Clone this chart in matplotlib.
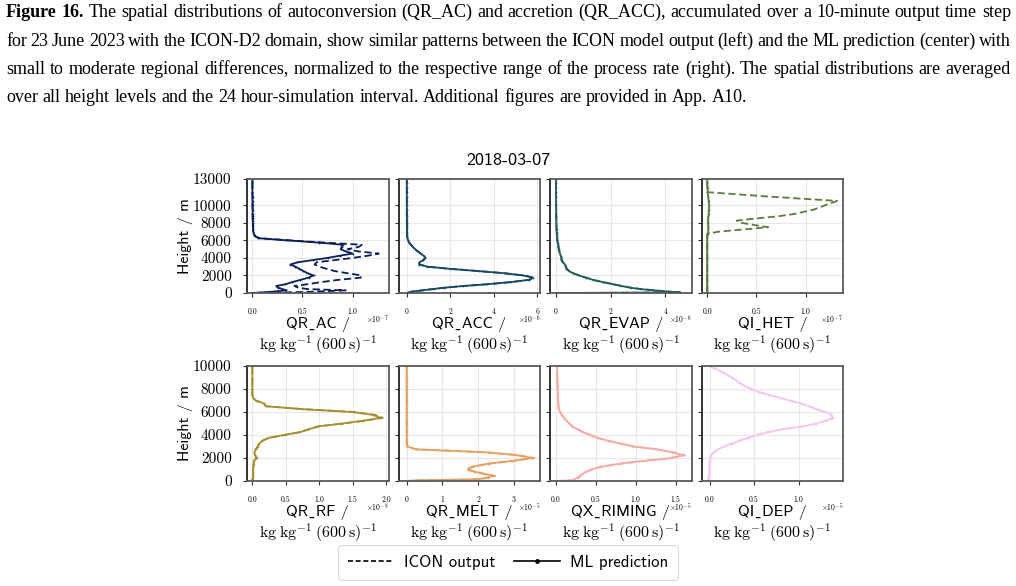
import matplotlib
matplotlib.use("Agg")
import matplotlib.pyplot as plt
from matplotlib.lines import Line2D

plt.rcParams["mathtext.fontset"] = "cm"

# model levels (m), shared by all panels
height = [0, 60, 150, 300, 450, 600, 800, 1000,
          1250, 1500, 1750, 2000, 2250, 2500, 2750, 3000,
          3250, 3500, 3750, 4000, 4250, 4500, 4750, 5000,
          5250, 5500, 5750, 6000, 6250, 6500, 6750, 7000,
          7250, 7500, 7750, 8000, 8250, 8500, 8750, 9000,
          9500, 10000, 10500, 11000, 11500, 12000, 12500, 13000]

# QR_AC  (x1e-7)
ac_icon = [0.0, 0.30, 0.60, 0.93, 0.55, 0.46, 0.42, 0.55,
           0.69, 0.86, 1.08, 1.09, 0.95, 0.82, 0.74, 0.67,
           0.62, 0.64, 0.82, 1.00, 1.15, 1.26, 1.05, 0.95,
           1.06, 1.09, 0.72, 0.38, 0.07, 0.025, 0.015, 0.01,
           0.008, 0.006, 0.005, 0.005, 0.004, 0.004, 0.003, 0.003,
           0.003, 0.002, 0.002, 0.002, 0.001, 0.001, 0.001, 0.001]
ac_ml = [0.0, 0.08, 0.20, 0.34, 0.30, 0.26, 0.24, 0.33,
         0.40, 0.48, 0.56, 0.61, 0.55, 0.51, 0.47, 0.43,
         0.38, 0.45, 0.60, 0.75, 0.87, 1.00, 0.93, 0.88,
         0.89, 0.90, 0.66, 0.35, 0.06, 0.025, 0.015, 0.01,
         0.008, 0.006, 0.005, 0.005, 0.004, 0.004, 0.003, 0.003,
         0.003, 0.002, 0.002, 0.002, 0.001, 0.001, 0.001, 0.001]

# QR_ACC  (x1e-6)
acc_icon = [0.0, 0.10, 0.22, 0.72, 1.22, 1.72, 2.62, 3.72,
            4.82, 5.62, 5.84, 5.38, 4.50, 3.30, 2.00, 0.95,
            0.57, 0.58, 0.76, 0.86, 0.78, 0.64, 0.50, 0.38,
            0.28, 0.19, 0.11, 0.06, 0.03, 0.015, 0.01, 0.008,
            0.006, 0.005, 0.004, 0.004, 0.003, 0.003, 0.003, 0.002,
            0.002, 0.002, 0.001, 0.001, 0.001, 0.001, 0.001, 0.001]
acc_ml = [0.0, 0.10, 0.20, 0.70, 1.20, 1.70, 2.60, 3.70,
          4.80, 5.60, 5.80, 5.35, 4.50, 3.30, 2.00, 0.95,
          0.58, 0.58, 0.75, 0.85, 0.78, 0.64, 0.50, 0.38,
          0.28, 0.19, 0.11, 0.06, 0.03, 0.015, 0.01, 0.008,
          0.006, 0.005, 0.004, 0.004, 0.003, 0.003, 0.003, 0.002,
          0.002, 0.002, 0.001, 0.001, 0.001, 0.001, 0.001, 0.001]

# QR_EVAP  (x1e-6)
evap_icon = [0.0, 4.55, 4.20, 3.60, 3.10, 2.75, 2.40, 2.10,
             1.70, 1.36, 1.10, 0.85, 0.63, 0.49, 0.39, 0.36,
             0.34, 0.26, 0.21, 0.20, 0.17, 0.14, 0.12, 0.10,
             0.09, 0.08, 0.06, 0.05, 0.04, 0.03, 0.025, 0.02,
             0.018, 0.015, 0.013, 0.01, 0.009, 0.008, 0.007, 0.006,
             0.005, 0.004, 0.003, 0.003, 0.002, 0.002, 0.002, 0.002]
evap_ml = [0.0, 4.50, 4.15, 3.58, 3.08, 2.73, 2.39, 2.08,
           1.69, 1.35, 1.09, 0.84, 0.62, 0.48, 0.38, 0.35,
           0.33, 0.25, 0.20, 0.20, 0.17, 0.14, 0.12, 0.10,
           0.09, 0.08, 0.06, 0.05, 0.04, 0.03, 0.025, 0.02,
           0.018, 0.015, 0.013, 0.01, 0.009, 0.008, 0.007, 0.006,
           0.005, 0.004, 0.003, 0.003, 0.002, 0.002, 0.002, 0.002]

# QI_HET  (x1e-7)
het_icon = [0.0, 0.0, 0.0, 0.0, 0.0, 0.0, 0.0, 0.0,
            0.0, 0.0, 0.0, 0.0, 0.0, 0.0, 0.0, 0.0,
            0.0, 0.0, 0.0, 0.0, 0.0, 0.0, 0.0, 0.0,
            0.0, 0.0, 0.0, 0.0, 0.0, 0.0, 0.0, 0.12,
            0.37, 0.62, 0.48, 0.35, 0.30, 0.50, 0.72, 0.88,
            1.08, 1.20, 1.32, 0.62, 0.0, 0.0, 0.0, 0.0]
het_ml = [0.0, 0.0, 0.0, 0.0, 0.0, 0.0, 0.0, 0.0,
          0.0, 0.0, 0.0, 0.0, 0.0, 0.0, 0.0, 0.0,
          0.0, 0.0, 0.0, 0.0, 0.0, 0.0, 0.0, 0.0,
          0.0, 0.0, 0.0, 0.0, 0.0, 0.0, 0.005, 0.01,
          0.01, 0.012, 0.01, 0.008, 0.008, 0.01, 0.012, 0.015,
          0.018, 0.02, 0.015, 0.01, 0.005, 0.003, 0.002, 0.0]

# QR_RF  (x1e-8)
rf_icon = [0.0, 0.0, 0.0, 0.01, 0.01, 0.01, 0.01, 0.01,
           0.015, 0.02, 0.02, 0.06, 0.04, 0.03, 0.05, 0.08,
           0.10, 0.15, 0.25, 0.48, 0.72, 0.85, 1.00, 1.36,
           1.70, 1.95, 1.84, 1.52, 0.76, 0.20, 0.17, 0.05,
           0.01, 0.0, 0.0, 0.0, 0.0, 0.0, 0.0, 0.0,
           0.0, 0.0, 0.0, 0.0, 0.0, 0.0, 0.0, 0.0]
rf_ml = [0.0, 0.0, 0.0, 0.01, 0.01, 0.01, 0.01, 0.01,
         0.015, 0.02, 0.02, 0.07, 0.04, 0.03, 0.05, 0.08,
         0.10, 0.15, 0.24, 0.47, 0.71, 0.84, 0.98, 1.34,
         1.66, 1.92, 1.80, 1.50, 0.74, 0.21, 0.17, 0.05,
         0.01, 0.0, 0.0, 0.0, 0.0, 0.0, 0.0, 0.0,
         0.0, 0.0, 0.0, 0.0, 0.0, 0.0, 0.0, 0.0]

# QR_MELT  (x1e-5)
melt_icon = [0.0, 0.3, 2.05, 2.32, 2.48, 2.22, 1.90, 1.68,
             1.84, 2.30, 3.00, 3.58, 3.12, 2.22, 0.28, 0.02,
             0.0, 0.0, 0.0, 0.0, 0.0, 0.0, 0.0, 0.0,
             0.0, 0.0, 0.0, 0.0, 0.0, 0.0, 0.0, 0.0,
             0.0, 0.0, 0.0, 0.0, 0.0, 0.0, 0.0, 0.0,
             0.0, 0.0, 0.0, 0.0, 0.0, 0.0, 0.0, 0.0]
melt_ml = [0.0, 0.3, 2.00, 2.28, 2.44, 2.20, 1.92, 1.72,
           1.86, 2.28, 2.96, 3.52, 3.08, 2.18, 0.26, 0.02,
           0.0, 0.0, 0.0, 0.0, 0.0, 0.0, 0.0, 0.0,
           0.0, 0.0, 0.0, 0.0, 0.0, 0.0, 0.0, 0.0,
           0.0, 0.0, 0.0, 0.0, 0.0, 0.0, 0.0, 0.0,
           0.0, 0.0, 0.0, 0.0, 0.0, 0.0, 0.0, 0.0]

# QX_RIMING  (x1e-5)
rim_icon = [0.0, 0.22, 0.24, 0.28, 0.30, 0.33, 0.38, 0.45,
            0.58, 0.80, 1.12, 1.45, 1.62, 1.46, 1.28, 0.98,
            0.82, 0.65, 0.52, 0.43, 0.34, 0.27, 0.20, 0.17,
            0.13, 0.10, 0.07, 0.05, 0.035, 0.03, 0.028, 0.025,
            0.024, 0.022, 0.021, 0.02, 0.019, 0.018, 0.017, 0.015,
            0.013, 0.012, 0.011, 0.01, 0.01, 0.01, 0.01, 0.01]
rim_ml = [0.0, 0.21, 0.23, 0.27, 0.30, 0.33, 0.37, 0.44,
          0.57, 0.79, 1.10, 1.44, 1.60, 1.45, 1.27, 0.97,
          0.81, 0.65, 0.52, 0.43, 0.34, 0.27, 0.20, 0.17,
          0.13, 0.10, 0.07, 0.05, 0.035, 0.03, 0.028, 0.025,
          0.024, 0.022, 0.021, 0.02, 0.019, 0.018, 0.017, 0.015,
          0.013, 0.012, 0.011, 0.01, 0.01, 0.01, 0.01, 0.01]

# QI_DEP  (x1e-5)
dep_icon = [-0.02, -0.02, -0.015, -0.01, -0.01, -0.005, 0.0, 0.0,
            0.0, 0.0, 0.0, 0.01, 0.02, 0.05, 0.10, 0.16,
            0.25, 0.34, 0.43, 0.53, 0.66, 0.82, 1.05, 1.20,
            1.31, 1.38, 1.36, 1.30, 1.20, 1.12, 1.02, 0.90,
            0.78, 0.66, 0.55, 0.47, 0.40, 0.34, 0.30, 0.25,
            0.14, 0.0, 0.0, 0.0, 0.0, 0.0, 0.0, 0.0]
dep_ml = [-0.02, -0.02, -0.015, -0.01, -0.01, -0.005, 0.0, 0.0,
          0.0, 0.0, 0.0, 0.01, 0.02, 0.05, 0.10, 0.16,
          0.25, 0.34, 0.43, 0.53, 0.66, 0.82, 1.05, 1.20,
          1.31, 1.39, 1.37, 1.30, 1.20, 1.12, 1.02, 0.90,
          0.78, 0.66, 0.55, 0.47, 0.40, 0.34, 0.30, 0.25,
          0.14, 0.0, 0.0, 0.0, 0.0, 0.0, 0.0, 0.0]

names = ["QR_AC", "QR_ACC", "QR_EVAP", "QI_HET",
         "QR_RF", "QR_MELT", "QX_RIMING", "QI_DEP"]
icon = [ac_icon, acc_icon, evap_icon, het_icon,
        rf_icon, melt_icon, rim_icon, dep_icon]
ml = [ac_ml, acc_ml, evap_ml, het_ml, rf_ml, melt_ml, rim_ml, dep_ml]
exponents = [-7, -6, -6, -7, -8, -5, -5, -5]
xticks = [[0, 0.5, 1.0], [0, 2, 4, 6], [0, 2, 4], [0, 0.5, 1.0],
          [0, 0.5, 1.0, 1.5, 2.0], [0, 1, 2, 3], [0, 0.5, 1.0, 1.5], [0, 0.5, 1.0]]
xlims = [(-0.053, 1.357), (-0.38, 6.12), (-0.22, 4.95), (-0.058, 1.38),
         (-0.08, 2.035), (-0.23, 3.74), (-0.076, 1.70), (-0.09, 1.50)]
colors = ["#0b1f5c", "#164a66", "#235f57", "#5c7b3c",
          "#a88f2c", "#e9a05c", "#f7aaa5", "#f6c6f2"]
date = "2018-03-07"

caption = [
    "Figure 16. The spatial distributions of autoconversion (QR_AC) and accretion (QR_ACC), accumulated over a 10-minute output time step",
    "for 23 June 2023 with the ICON-D2 domain, show similar patterns between the ICON model output (left) and the ML prediction (center) with",
    "small to moderate regional differences, normalized to the respective range of the process rate (right). The spatial distributions are averaged",
    "over all height levels and the 24 hour-simulation interval. Additional figures are provided in App. A10.",
]

W, H = 1016, 586
fig = plt.figure(figsize=(W / 100, H / 100), dpi=100)
fig.patch.set_facecolor("white")
# computer-modern sans; its "_" slot holds another glyph, so a low line
# from DejaVu Sans stands in for the underscore
sans = ["cmss10", "DejaVu Sans"]
unit = r"$\mathrm{kg\;kg^{-1}\;(600\,s)^{-1}}$"

lefts = [247, 398.5, 550, 701.5]
for i in range(8):
    row, col = divmod(i, 4)
    ybot = 293 if row == 0 else 481
    hpx = 114 if row == 0 else 115
    ax = fig.add_axes([lefts[col] / W, 1 - ybot / H, 141.5 / W, hpx / H])
    ax.plot(icon[i], height, ls="--", color=colors[i], lw=1.3, dashes=(4, 2))
    ax.plot(ml[i], height, ls="-", color=colors[i], lw=1.3,
            marker="o", ms=1.3, mew=0)
    ax.set_xlim(xlims[i])
    ax.set_xticks(xticks[i])
    if row == 0:
        ax.set_ylim(0, 13000)
        ax.set_yticks([0, 2000, 4000, 6000, 8000, 10000, 13000])
    else:
        ax.set_ylim(0, 10000)
        ax.set_yticks([0, 2000, 4000, 6000, 8000, 10000])
    ax.grid(True, color="#e8e8e8", lw=0.8)
    ax.set_axisbelow(True)
    for s in ["top", "right", "bottom"]:
        ax.spines[s].set_color("#5a5a5a")
        ax.spines[s].set_linewidth(1.3)
    ax.spines["left"].set_color("#222222")
    ax.spines["left"].set_linewidth(1.3)
    ax.tick_params(direction="out", length=3, width=0.8, color="#333333")
    ax.tick_params(axis="x", labelsize=5.5, pad=7.5)
    ax.tick_params(axis="y", labelsize=11, pad=8)
    for lab in ax.get_xticklabels() + ax.get_yticklabels():
        lab.set_family("cmr10")
    if col == 0:
        ax.set_ylabel("Height / m", family=sans, fontsize=11.5, labelpad=0)
    else:
        ax.set_yticklabels([])
    ax.set_xlabel(names[i].replace("_", "\u02cd") + " /\n" + unit, family=sans,
                  fontsize=11.5, labelpad=1, linespacing=1.05)
    ax.text(1.0, -0.235, r"$\times10^{%d}$" % exponents[i], transform=ax.transAxes,
            ha="right", va="center", fontsize=5.5)

fig.text(508 / W, 1 - 160 / H, date, family=sans, fontsize=13,
         ha="center", va="center")

handles = [Line2D([], [], color="black", ls="--", lw=1.2, dashes=(3, 1.6)),
           Line2D([], [], color="black", ls="-", lw=1.2, marker="o", ms=2.5)]
leg = fig.legend(handles, ["ICON output", "ML prediction"], loc="center",
                 bbox_to_anchor=(508 / W, 1 - 562 / H), ncol=2,
                 prop={"family": sans, "size": 12}, frameon=True,
                 handlelength=2.75, columnspacing=1.1, handletextpad=0.6,
                 borderpad=0.6, borderaxespad=0, fancybox=True)
leg.get_frame().set_edgecolor("#d0d0d0")
leg.get_frame().set_linewidth(0.8)

# caption, justified like the journal text
r = fig.canvas.get_renderer()
serif = "Liberation Serif"


def text_width(s, size, weight="normal"):
    t = fig.text(0, 0, s, family=serif, fontsize=size, weight=weight)
    w = t.get_window_extent(r).width
    t.remove()
    return w


size = 12 * 740 / text_width(caption[3], 12)
x0, x1 = 6, 1011
baselines = [17, 45.5, 74, 102.5]
space = text_width("a b", size) - text_width("ab", size)
for k, line in enumerate(caption):
    words = line.split(" ")
    weights = ["bold" if (k == 0 and j < 2) else "normal" for j in range(len(words))]
    widths = [text_width(w, size, wt) for w, wt in zip(words, weights)]
    if k < 3:
        gap = (x1 - x0 - sum(widths)) / (len(words) - 1)
    else:
        gap = space
    x = x0
    for w, wt, wd in zip(words, weights, widths):
        fig.text(x / W, 1 - baselines[k] / H, w, family=serif, fontsize=size,
                 weight=wt, ha="left", va="baseline")
        x += wd + gap

fig.savefig("out.png", dpi=100)
